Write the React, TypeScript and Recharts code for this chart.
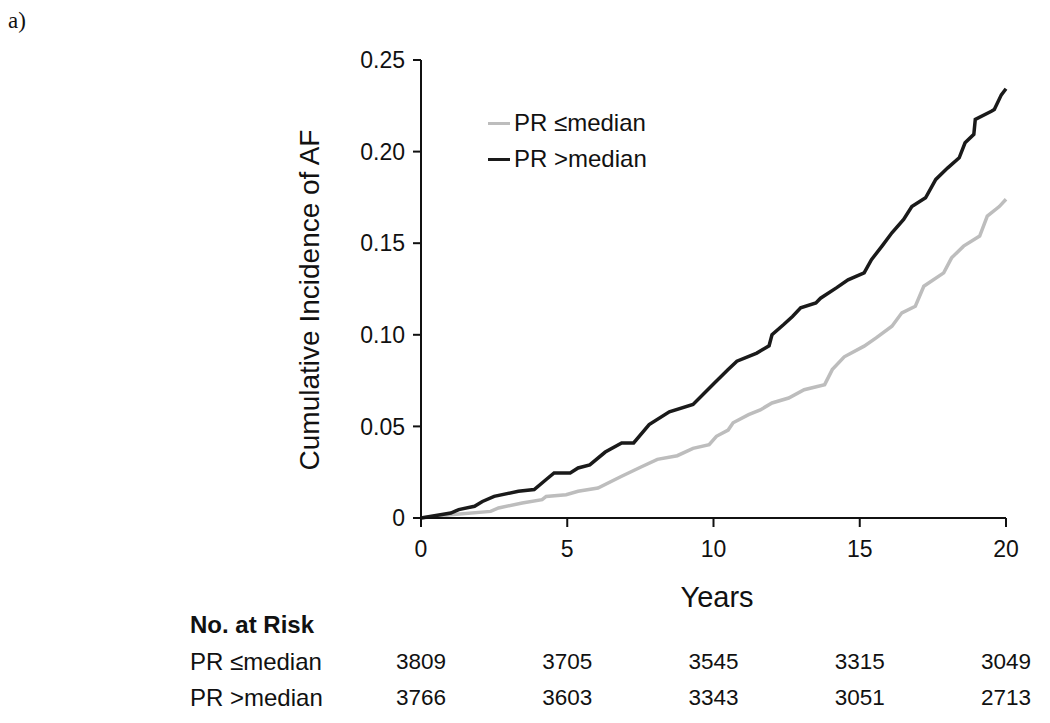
import React from "react";
import { LineChart, Line, XAxis, YAxis } from "recharts";

const yearsLow = [0, 1.02, 2.38, 2.65, 3.46, 4.14, 4.28, 4.96, 5.37, 6.05, 6.86, 7.54, 8.08, 8.76, 9.3, 9.85, 10.1, 10.5, 10.67, 11.2, 11.6, 12.0, 12.57, 13.1, 13.8, 14.06, 14.47, 15.15, 15.56, 16.1, 16.44, 16.9, 17.19, 17.87, 18.14, 18.55, 19.1, 19.36, 19.77, 20];
const valuesLow = [0, 0.0018, 0.0036, 0.0055, 0.0082, 0.01, 0.0118, 0.0127, 0.0146, 0.0164, 0.0228, 0.028, 0.032, 0.034, 0.038, 0.04, 0.0446, 0.048, 0.052, 0.0564, 0.059, 0.0628, 0.0655, 0.07, 0.0728, 0.081, 0.088, 0.0938, 0.0983, 0.1047, 0.112, 0.1156, 0.1265, 0.1338, 0.142, 0.1484, 0.1539, 0.1648, 0.17, 0.174];

const yearsHigh = [0, 1.02, 1.29, 1.83, 2.1, 2.5, 3.33, 3.87, 4.28, 4.55, 5.1, 5.37, 5.77, 6.3, 6.86, 7.27, 7.8, 8.49, 9.3, 9.99, 10.5, 10.8, 11.48, 11.9, 12.0, 12.4, 12.7, 12.98, 13.5, 13.66, 14.2, 14.6, 15.15, 15.4, 15.76, 16.1, 16.5, 16.78, 17.25, 17.6, 18.0, 18.4, 18.6, 18.9, 18.95, 19.5, 19.6, 19.84, 20];
const valuesHigh = [0, 0.0027, 0.0046, 0.0064, 0.009, 0.0118, 0.0146, 0.0155, 0.021, 0.0246, 0.0246, 0.0273, 0.029, 0.036, 0.041, 0.041, 0.051, 0.058, 0.062, 0.073, 0.081, 0.0856, 0.09, 0.094, 0.1, 0.1056, 0.11, 0.1147, 0.1174, 0.12, 0.1256, 0.13, 0.1338, 0.141, 0.1484, 0.1557, 0.163, 0.17, 0.1748, 0.1848, 0.191, 0.1966, 0.2048, 0.2094, 0.2176, 0.222, 0.223, 0.231, 0.2343];

const xTicks = [0, 5, 10, 15, 20];
const yTicks = [0, 0.05, 0.1, 0.15, 0.2, 0.25];
const yTickLabels = ["0", "0.05", "0.10", "0.15", "0.20", "0.25"];

const seriesNames = ["PR \u2264median", "PR >median"];
const seriesColors = ["#bdbdbd", "#1a1a1a"];
const riskLow = [3809, 3705, 3545, 3315, 3049];
const riskHigh = [3766, 3603, 3343, 3051, 2713];

const lowData = yearsLow.map((t, i) => ({ t, v: valuesLow[i] }));
const highData = yearsHigh.map((t, i) => ({ t, v: valuesHigh[i] }));

const FONT = "'Liberation Sans', Arial, sans-serif";
const W = 1050;
const H = 723;
const PLOT_L = 421;
const PLOT_R = 1006;
const PLOT_T = 60;
const PLOT_B = 518;
const YAXIS_W = 80;
const XAXIS_H = 40;

const xPos = (t: number) => PLOT_L + ((t - 0) / 20) * (PLOT_R - PLOT_L);

export default function App() {
  return (
    <div style={{ position: "absolute", left: 0, top: 0, width: W, height: H, background: "#fff" }}>
      <LineChart
        width={W}
        height={H}
        margin={{ top: PLOT_T, right: W - PLOT_R, bottom: H - PLOT_B - XAXIS_H, left: PLOT_L - YAXIS_W }}
      >
        <XAxis
          dataKey="t"
          type="number"
          domain={[0, 20]}
          ticks={xTicks}
          allowDuplicatedCategory={false}
          height={XAXIS_H}
          axisLine={{ stroke: "#111", strokeWidth: 2 }}
          tickLine={{ stroke: "#111", strokeWidth: 2 }}
          tickSize={9}
          tick={{ fill: "#111", fontSize: 23, fontFamily: FONT, dy: 12 }}
        />
        <YAxis
          type="number"
          domain={[0, 0.25]}
          ticks={yTicks}
          width={YAXIS_W}
          axisLine={{ stroke: "#111", strokeWidth: 2 }}
          tickLine={{ stroke: "#111", strokeWidth: 2 }}
          tickSize={8}
          tickFormatter={(v: number) => yTickLabels[yTicks.indexOf(v)] ?? String(v)}
          tick={{ fill: "#111", fontSize: 23, fontFamily: FONT, dx: -6 }}
        />
        <Line
          data={lowData}
          dataKey="v"
          name={seriesNames[0]}
          type="linear"
          stroke={seriesColors[0]}
          strokeWidth={3.5}
          strokeLinejoin="miter"
          dot={false}
          isAnimationActive={false}
        />
        <Line
          data={highData}
          dataKey="v"
          name={seriesNames[1]}
          type="linear"
          stroke={seriesColors[1]}
          strokeWidth={3.5}
          strokeLinejoin="miter"
          dot={false}
          isAnimationActive={false}
        />
      </LineChart>

      <div style={{ position: "absolute", left: 488, top: 105, fontFamily: FONT, fontSize: 24, color: "#111" }}>
        {seriesNames.map((n, i) => (
          <div key={n} style={{ display: "flex", alignItems: "center", height: 36 }}>
            <span style={{ display: "inline-block", width: 22, height: 3, background: seriesColors[i], marginRight: 4 }} />
            <span>{n}</span>
          </div>
        ))}
      </div>

      <div style={{ position: "absolute", left: 8, top: 8, fontFamily: "'Liberation Serif', 'Times New Roman', serif", fontSize: 23, color: "#111" }}>a)</div>

      <div
        style={{
          position: "absolute",
          left: 310,
          top: 300,
          transform: "translate(-50%, -50%) rotate(-90deg)",
          whiteSpace: "nowrap",
          fontFamily: FONT,
          fontSize: 28,
          color: "#111",
        }}
      >
        Cumulative Incidence of AF
      </div>

      <div style={{ position: "absolute", left: 717, top: 597, transform: "translate(-50%, -50%)", fontFamily: FONT, fontSize: 29, color: "#111" }}>
        Years
      </div>

      <div style={{ position: "absolute", left: 190, top: 625, transform: "translateY(-50%)", fontFamily: FONT, fontSize: 24, fontWeight: "bold", color: "#111", whiteSpace: "nowrap" }}>
        No. at Risk
      </div>
      {[riskLow, riskHigh].map((row, r) => (
        <React.Fragment key={r}>
          <div style={{ position: "absolute", left: 190, top: 662 + r * 36, transform: "translateY(-50%)", fontFamily: FONT, fontSize: 24, color: "#111", whiteSpace: "nowrap" }}>
            {seriesNames[r]}
          </div>
          {row.map((n, i) => (
            <div
              key={i}
              style={{ position: "absolute", left: xPos(xTicks[i]), top: 662 + r * 36, transform: "translate(-50%, -50%)", fontFamily: FONT, fontSize: 22.5, color: "#111" }}
            >
              {n}
            </div>
          ))}
        </React.Fragment>
      ))}
    </div>
  );
}
